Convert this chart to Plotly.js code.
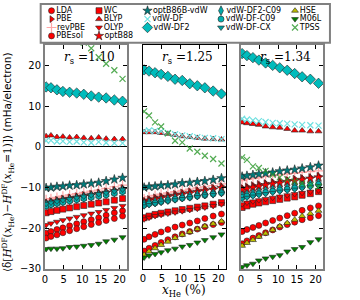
<!DOCTYPE html>
<html><head><meta charset="utf-8">
<script src="https://cdn.plot.ly/plotly-3.0.1.min.js"></script>
<style>html,body{margin:0;padding:0;background:#fff}</style>
</head><body><div id="chart" style="width:360px;height:300px"></div>
<script>
// x_He (%) sample points
const xHe = [0.3, 1.6, 3.2, 4.8, 6.6, 8.5, 10.4, 12.4, 14.4, 16.4, 18.6, 20.8];
const rsLabels = ['1.10', '1.25', '1.34'];
// each series: [rs=1.10, rs=1.25, rs=1.34]
const LDA = [
  [-21.2,-20.8,-20.3,-19.9,-19.4,-18.9,-18.4,-17.9,-17.4,-16.8,-16.2,-15.7],
  [-22.7,-22.1,-21.5,-20.9,-20.3,-19.7,-19.2,-18.7,-18.2,-17.6,-17.0,-16.5],
  [-20.8,-20.3,-19.8,-19.3,-18.7,-18.1,-17.5,-16.9,-16.3,-15.6,-15.0,-14.5]];
const PBE = [
  [-13.6,-13.3,-13.0,-12.7,-12.4,-12.1,-11.8,-11.5,-11.2,-10.9,-10.5,-10.1],
  [-13.2,-12.8,-12.4,-12.1,-11.8,-11.5,-11.2,-10.9,-10.6,-10.3,-10.0,-9.6],
  [-10.0,-9.7,-9.4,-9.1,-8.9,-8.6,-8.3,-8.1,-7.8,-7.6,-7.4,-7.1]];
const revPBE = [
  [-13.0,-12.7,-12.4,-12.1,-11.8,-11.5,-11.2,-10.9,-10.6,-10.2,-9.8,-9.4],
  [-12.8,-12.3,-11.9,-11.6,-11.3,-11.0,-10.7,-10.4,-10.1,-9.8,-9.5,-9.1],
  [-8.3,-8.0,-7.8,-7.6,-7.3,-7.1,-6.9,-6.7,-6.5,-6.3,-6.1,-5.9]];
const PBEsol = [
  [-22.4,-22.0,-21.6,-21.1,-20.6,-20.1,-19.6,-19.1,-18.6,-18.1,-17.6,-17.0],
  [-25.6,-24.9,-24.2,-23.5,-22.8,-22.1,-21.4,-20.8,-20.2,-19.6,-19.1,-18.6],
  [-23.8,-23.1,-22.4,-21.8,-21.1,-20.4,-19.7,-19.1,-18.5,-17.9,-17.4,-16.9]];
const WC = [
  [-16.2,-15.9,-15.6,-15.3,-15.0,-14.7,-14.4,-14.1,-13.8,-13.5,-13.1,-12.7],
  [-17.4,-17.0,-16.6,-16.3,-16.0,-15.7,-15.4,-15.1,-14.8,-14.5,-14.1,-13.7],
  [-14.9,-14.5,-14.1,-13.8,-13.5,-13.2,-12.9,-12.6,-12.3,-11.9,-11.5,-11.0]];
const BLYP = [
  [2.6,2.8,2.4,2.5,2.3,2.4,2.2,2.1,2.3,2.0,1.9,1.9],
  [3.6,3.6,3.6,3.4,3.2,2.9,2.6,2.4,2.2,2.0,1.9,1.8],
  [6.0,5.8,5.6,5.4,5.0,4.8,4.7,4.4,4.0,4.0,3.8,3.8]];
const OLYP = [
  [-19.2,-18.8,-18.4,-18.0,-17.6,-17.2,-16.8,-16.4,-16.0,-15.5,-15.0,-14.5],
  [-17.8,-17.4,-17.0,-16.7,-16.4,-16.1,-15.8,-15.5,-15.2,-14.9,-14.5,-14.1],
  [-14.1,-13.7,-13.4,-13.1,-12.8,-12.5,-12.2,-11.9,-11.6,-11.3,-11.0,-10.7]];
const optB88 = [
  [-14.0,-13.7,-13.4,-13.1,-12.8,-12.5,-12.2,-11.9,-11.6,-11.3,-10.9,-10.5],
  [-13.6,-13.2,-12.9,-12.6,-12.3,-12.0,-11.7,-11.4,-11.1,-10.8,-10.5,-10.1],
  [-10.6,-10.3,-10.0,-9.7,-9.4,-9.1,-8.9,-8.6,-8.4,-8.1,-7.8,-7.5]];
const optB86BvdW = [
  [-10.1,-10.0,-9.8,-9.7,-9.5,-9.4,-9.2,-9.0,-8.8,-8.4,-8.0,-7.6],
  [-10.0,-9.8,-9.7,-9.5,-9.4,-9.2,-8.9,-8.8,-8.6,-8.4,-8.1,-7.7],
  [-7.3,-7.1,-6.9,-6.7,-6.5,-6.3,-6.0,-5.8,-5.6,-5.3,-5.0,-4.6]];
const vdWDF = [
  [1.5,1.6,1.3,1.4,1.2,1.3,1.1,1.0,1.2,1.0,0.9,0.9],
  [3.9,4.0,3.9,3.8,3.4,3.1,2.8,2.6,2.4,2.2,2.1,1.9],
  [6.9,6.7,6.5,6.3,6.1,5.9,5.8,5.7,5.5,5.4,5.3,5.2]];
const vdWDF2 = [
  [14.7,14.5,14.0,13.6,13.4,13.2,12.9,12.5,12.2,12.0,11.5,11.2],
  [18.9,18.6,18.2,17.8,17.3,16.6,16.3,15.5,15.0,14.5,13.7,13.0],
  [22.9,22.4,21.9,21.3,20.6,20.0,19.4,18.8,18.0,17.2,16.6,15.6]];
const vdWDF2C09 = [
  [-14.2,-13.9,-13.6,-13.3,-13.0,-12.7,-12.4,-12.1,-11.8,-11.5,-11.1,-10.7],
  [-14.0,-13.7,-13.5,-13.2,-12.9,-12.6,-12.3,-12.1,-11.8,-11.6,-11.4,-11.1],
  [-12.0,-11.7,-11.4,-11.1,-10.8,-10.5,-10.2,-10.0,-9.7,-9.5,-9.2,-8.9]];
const vdWDFC09 = [
  [-14.5,-14.2,-13.9,-13.6,-13.3,-13.0,-12.7,-12.4,-12.1,-11.8,-11.4,-11.0],
  [-14.3,-14.0,-13.8,-13.5,-13.2,-12.9,-12.6,-12.4,-12.1,-11.9,-11.6,-11.3],
  [-12.4,-12.1,-11.8,-11.5,-11.2,-10.9,-10.6,-10.4,-10.1,-9.8,-9.5,-9.2]];
const vdWDFCX = [
  [-14.0,-13.7,-13.4,-13.1,-12.8,-12.5,-12.2,-11.9,-11.6,-11.3,-10.9,-10.5],
  [-14.6,-14.3,-14.0,-13.7,-13.4,-13.1,-12.8,-12.6,-12.3,-12.0,-11.8,-11.5],
  [-12.8,-12.5,-12.2,-11.9,-11.6,-11.3,-11.0,-10.8,-10.5,-10.2,-9.9,-9.6]];
const HSE = [
  [null,null,null,null,null,null,null,null,null,null,null,null],
  [-26.5,-25.7,-24.9,-24.1,-23.3,-22.4,-21.6,-20.9,-20.2,-19.5,-18.9,-18.3],
  [-24.3,-23.6,-22.9,-22.1,-21.3,-20.4,-19.5,-18.7,-17.9,-17.0,-16.4,-15.7]];
const M06L = [
  [-25.1,-25.0,-25.0,-24.9,-24.6,-24.5,-24.3,-24.1,-23.8,-23.2,-22.8,-22.2],
  [-27.2,-26.7,-26.3,-25.9,-25.4,-25.0,-24.5,-24.1,-23.5,-22.9,-22.2,-21.5],
  [-29.5,-29.1,-28.7,-27.9,-27.4,-27.0,-26.6,-25.7,-25.1,-24.6,-23.4,-22.7]];
const TPSS = [
  [34.5,33.0,31.5,30.0,28.5,27.0,25.6,24.2,22.0,20.4,18.8,16.7],
  [8.7,7.7,6.0,5.0,3.3,1.5,1.1,-0.4,-1.2,-2.2,-3.0,-4.1],
  [-2.6,-3.2,-4.8,-5.2,-5.9,-6.9,-7.5,-8.0,-8.5,-9.0,-9.4,-9.8]];

const seriesNames = ['LDA','PBE','revPBE','PBEsol','WC','BLYP','OLYP','optB88',
  'optB86B-vdW','vdW-DF','vdW-DF2','vdW-DF2-C09','vdW-DF-C09','vdW-DF-CX','HSE','M06L','TPSS'];
const seriesData = [LDA,PBE,revPBE,PBEsol,WC,BLYP,OLYP,optB88,
  optB86BvdW,vdWDF,vdWDF2,vdWDF2C09,vdWDFC09,vdWDFCX,HSE,M06L,TPSS];

// styles
const RED='#ff0000', EDGE='#222';
const seriesStyle = [
  {symbol:'circle', color:RED, size:6},
  {symbol:'triangle-right', color:RED, size:6},
  {symbol:'cross-thin-open', color:'rgba(255,60,60,0.45)', size:7, open:true},
  {symbol:'circle', color:RED, size:6},
  {symbol:'square', color:RED, size:6},
  {symbol:'triangle-up', color:RED, size:6},
  {symbol:'triangle-down', color:RED, size:6},
  {symbol:'star', color:RED, size:7},
  {symbol:'star', color:'#007a7a', size:7},
  {symbol:'x-thin-open', color:'#6fe0e0', size:6, open:true},
  {symbol:'diamond', color:'#00bcbc', size:8},
  {symbol:'diamond-tall', color:'#00a8a8', size:7},
  {symbol:'circle', color:'#00b0b0', size:6},
  {symbol:'triangle-down', color:'#00a0a0', size:6},
  {symbol:'triangle-up', color:'#bfbf00', size:6},
  {symbol:'triangle-down', color:'#007f00', size:6},
  {symbol:'x-thin-open', color:'rgba(40,150,40,0.8)', size:6, open:true}
];
const legendCol = [0,0,0,0,1,1,1,1,2,2,2,3,3,3,4,4,4];
const legendRow = [0,1,2,3,0,1,2,3,0,1,2,0,1,2,0,1,2];
const legendColX = [51.5, 99, 147.5, 221, 295];
const legendRowY = [10.7, 19.1, 27.5, 35.9];

function markerOf(st){
  if(st.open) return {symbol:st.symbol, size:st.size, color:st.color, line:{color:st.color, width:1.2}};
  return {symbol:st.symbol, size:st.size, color:st.color, line:{color:EDGE, width:0.6}};
}

const traces = [];
for(let p=0;p<3;p++){
  const ax = p===0?'':String(p+1);
  seriesData.forEach((s,i)=>{
    traces.push({type:'scatter', mode:'markers', x:xHe, y:s[p], name:seriesNames[i],
      xaxis:'x'+ax, yaxis:'y'+ax, marker:markerOf(seriesStyle[i]), showlegend:false,
      cliponaxis:true, hoverinfo:'skip'});
  });
}
// hand-laid legend
seriesNames.forEach((n,i)=>{
  traces.push({type:'scatter', mode:'markers+text', x:[legendColX[legendCol[i]]], y:[legendRowY[legendRow[i]]],
    text:[n], textposition:'middle right', textfont:{family:'DejaVu Sans', size:8, color:'#000'},
    xaxis:'x4', yaxis:'y4', marker:markerOf(seriesStyle[i]), showlegend:false, cliponaxis:false, hoverinfo:'skip'});
});

const doms = [[0,0.295],[0.3525,0.651],[0.705,1]];
const borderCol = ['#808080','#000000','#808080'];
const borderW = [2,1.3,2];
const layout = {
  width:360, height:300, margin:{l:45,r:37,t:3,b:31},
  paper_bgcolor:'#fff', plot_bgcolor:'#fff', showlegend:false,
  font:{family:'DejaVu Sans', size:10, color:'#000'},
  annotations:[], shapes:[]
};
for(let p=0;p<3;p++){
  const k = p===0?'':String(p+1);
  layout['xaxis'+k] = {domain:doms[p], range:[0,22], anchor:'y'+k, showgrid:false, zeroline:false,
    showline:true, mirror:'ticks', linecolor:borderCol[p], linewidth:borderW[p],
    ticks:'inside', ticklen:4, tickwidth:1, tickcolor:'#000', tickvals:[0,5,10,15,20],
    tickfont:{size:10}, fixedrange:true};
  layout['yaxis'+k] = {domain:[0,0.842], range:[-30,25], anchor:'x'+k, showgrid:false,
    zeroline:true, zerolinecolor:'#000', zerolinewidth:1,
    showline:true, mirror:'ticks', linecolor:borderCol[p], linewidth:borderW[p],
    ticks:'inside', ticklen:4, tickwidth:1, tickcolor:'#000', tickvals:[-30,-20,-10,0,10,20],
    showticklabels:p===0, tickfont:{size:10}, fixedrange:true};
  layout.annotations.push({xref:'paper', yref:'paper', x:(doms[p][0]+doms[p][1])/2+0.012, y:0.793,
    xanchor:'center', yanchor:'middle',
    text:'<i>r</i><sub>s</sub> =' + rsLabels[p], showarrow:false,
    font:{family:'DejaVu Serif', size:12, color:'#000'}});
}
layout.xaxis4 = {domain:[0,1], range:[45,323], visible:false, anchor:'y4', fixedrange:true};
layout.yaxis4 = {domain:[0.842,1], range:[45,3], visible:false, anchor:'x4', fixedrange:true};
layout.shapes.push({type:'rect', xref:'paper', yref:'paper', x0:-0.0155, x1:1.025, y0:0.851, y1:0.996,
  line:{color:'#808080', width:2}, fillcolor:'rgba(0,0,0,0)'});
layout.annotations.push({xref:'paper', yref:'paper', x:0.5, y:-0.083, xanchor:'center', yanchor:'middle',
  text:'<i>x</i><sub>He</sub> (%)', showarrow:false, font:{family:'DejaVu Serif', size:12}});
layout.annotations.push({xref:'paper', yref:'paper', x:-0.133, y:0.402, textangle:-90,
  xanchor:'center', yanchor:'middle', showarrow:false,
  text:'<span style="font-family:DejaVu Serif">⟨δ[<i>H</i><sup>DF</sup>(<i>x</i><sub>He</sub>)−<i>H</i><sup>DF</sup>(<i>x</i><sub>He</sub>=1)]⟩</span> (mHa/electron)',
  font:{family:'DejaVu Sans', size:10.5}});

Plotly.newPlot('chart', traces, layout, {staticPlot:true, displayModeBar:false});
</script></body></html>
